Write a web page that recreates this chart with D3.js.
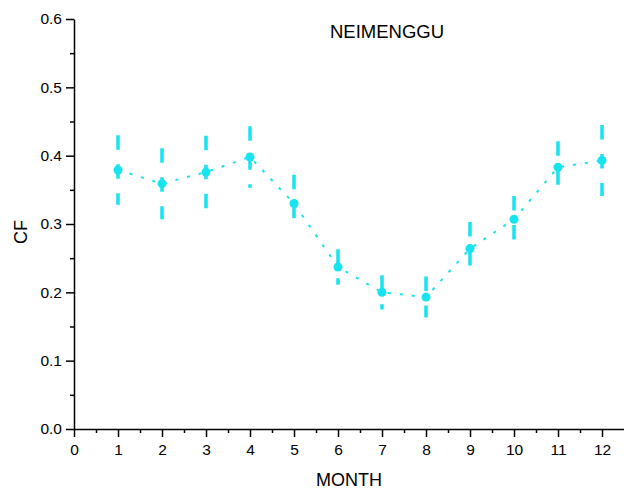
<!DOCTYPE html>
<html>
<head>
<meta charset="utf-8">
<script src="https://cdn.jsdelivr.net/npm/d3@7"></script>
<style>
  body { margin: 0; background: #fff; }
  svg text { font-family: "Liberation Sans", Arial, sans-serif; fill: #000; }
</style>
</head>
<body>
<div id="root"></div>
<script>
const months = [1, 2, 3, 4, 5, 6, 7, 8, 9, 10, 11, 12];
const cf = [0.379, 0.359, 0.376, 0.398, 0.330, 0.237, 0.200, 0.193, 0.264, 0.307, 0.383, 0.393];
const cfErr = [0.051, 0.052, 0.053, 0.045, 0.042, 0.026, 0.025, 0.030, 0.039, 0.034, 0.038, 0.052];
const xTicks = [0, 1, 2, 3, 4, 5, 6, 7, 8, 9, 10, 11, 12];
const yTicks = [0, 0.1, 0.2, 0.3, 0.4, 0.5, 0.6];

const width = 624;
const height = 489;
const color = "#18e4f0";

const svg = d3.select("#root")
  .append("svg")
  .attr("width", width)
  .attr("height", height);

const x = d3.scaleLinear().domain([0, 12.5]).range([74, 624]);
const y = d3.scaleLinear().domain([0, 0.6]).range([429, 19]);

const data = months.map((m, i) => ({ m: m, v: cf[i], e: cfErr[i] }));

// Minor ticks
svg.append("g")
  .attr("transform", "translate(0,429)")
  .call(d3.axisBottom(x).tickValues(d3.range(0.5, 12.5, 1)).tickSize(4).tickFormat(""))
  .call(g => g.select(".domain").remove());
svg.append("g")
  .attr("transform", "translate(74,0)")
  .call(d3.axisLeft(y).tickValues(d3.range(0.05, 0.6, 0.1)).tickSize(4).tickFormat(""))
  .call(g => g.select(".domain").remove());

// Axes
svg.append("g")
  .attr("transform", "translate(0,429)")
  .call(d3.axisBottom(x).tickValues(xTicks).tickSize(8).tickSizeOuter(0).tickPadding(7));
svg.append("g")
  .attr("transform", "translate(74,0)")
  .call(d3.axisLeft(y).tickValues(yTicks).tickSize(8).tickSizeOuter(0).tickPadding(4)
    .tickFormat(d3.format(".1f")));

svg.selectAll(".tick line").attr("stroke", "#000").attr("stroke-width", 1.5);
svg.selectAll(".domain").attr("stroke", "#000").attr("stroke-width", 1.5);
svg.selectAll(".tick text").attr("font-size", 15.5);
svg.selectAll("g").attr("font-family", null);

// Dotted connecting line
svg.append("path")
  .datum(data)
  .attr("fill", "none")
  .attr("stroke", color)
  .attr("stroke-width", 2)
  .attr("stroke-dasharray", "3,9")
  .attr("d", d3.line().x(d => x(d.m)).y(d => y(d.v)));

// Error bars (dashed, as in the original)
svg.selectAll(".err")
  .data(data)
  .join("line")
  .attr("class", "err")
  .attr("x1", d => x(d.m))
  .attr("x2", d => x(d.m))
  .attr("y1", d => y(d.v + d.e))
  .attr("y2", d => y(d.v - d.e))
  .attr("stroke", color)
  .attr("stroke-width", 3.5)
  .attr("stroke-dasharray", "14.5,14.5");

// Points
svg.selectAll(".pt")
  .data(data)
  .join("circle")
  .attr("class", "pt")
  .attr("cx", d => x(d.m))
  .attr("cy", d => y(d.v))
  .attr("r", 4.5)
  .attr("fill", color);

// Titles
svg.append("text")
  .attr("x", 387)
  .attr("y", 38)
  .attr("text-anchor", "middle")
  .attr("font-size", 18.5)
  .text("NEIMENGGU");

svg.append("text")
  .attr("x", 349)
  .attr("y", 486)
  .attr("text-anchor", "middle")
  .attr("font-size", 18)
  .text("MONTH");

svg.append("text")
  .attr("transform", "translate(27,232) rotate(-90)")
  .attr("text-anchor", "middle")
  .attr("font-size", 18)
  .text("CF");
</script>
</body>
</html>
